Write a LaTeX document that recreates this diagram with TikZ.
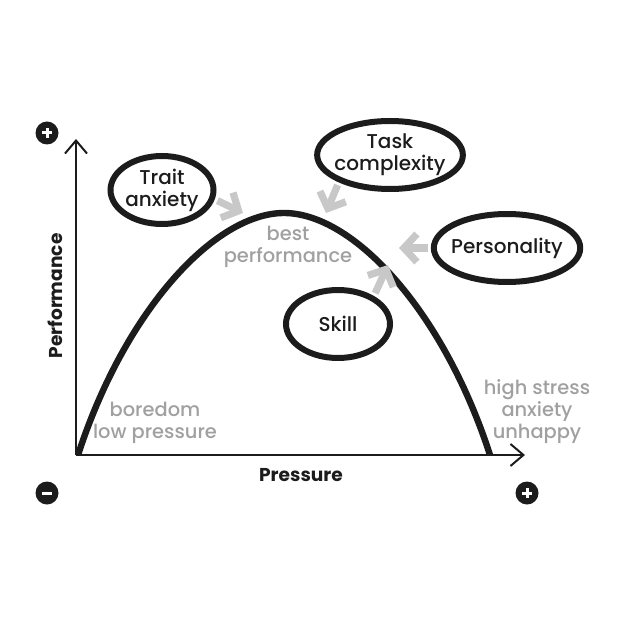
\documentclass[tikz,border=0pt]{standalone}
\usepackage{fontspec}
\setmainfont{Poppins}[UprightFont={Poppins Medium}, BoldFont={Poppins Bold}]
\usepackage{xcolor}
\usetikzlibrary{shapes, arrows.meta, positioning, calc}
\definecolor{inkblack}{RGB}{28, 28, 28}
\definecolor{labelgray}{RGB}{160, 160, 160}
\definecolor{arrowgray}{RGB}{200, 200, 200}

\begin{document}
\begin{tikzpicture}[
					x=0.5pt, y=-0.5pt,
					factor/.style={ellipse, draw=inkblack, line width=3pt, inner sep=-2pt, minimum height=34pt, align=center, text=inkblack, font=\fontsize{10}{11}\selectfont},
					note/.style={text=labelgray, align=center, font=\fontsize{9.7}{11}\selectfont},
					axislabel/.style={text=inkblack, font=\fontsize{9.3}{11}\selectfont\bfseries},
					axis/.style={-{Straight Barb[length=6.5pt, width=11pt]}, inkblack, line width=1pt},
					influence/.style={-{Straight Barb[length=6.5pt, width=14pt]}, arrowgray, line width=3.6pt, shorten <=1.5pt},
					sign/.style={circle, fill=inkblack, minimum size=11.5pt, inner sep=0pt},
					plussign/.style={sign, path picture={
						\draw[white, line width=1.5pt] ([xshift=-2.3pt]path picture bounding box.center) -- ([xshift=2.3pt]path picture bounding box.center);
						\draw[white, line width=1.5pt] ([yshift=-2.3pt]path picture bounding box.center) -- ([yshift=2.3pt]path picture bounding box.center);}},
					minussign/.style={sign, path picture={
						\draw[white, line width=1.5pt] ([xshift=-2.3pt]path picture bounding box.center) -- ([xshift=2.3pt]path picture bounding box.center);}}
				]
				\useasboundingbox (0,0) rectangle (624,624);

				% 1. Axes
				\coordinate (origin) at (76,455);
				\coordinate (ytip) at (76,139);
				\coordinate (xtip) at (525,455);
				\draw[axis] (origin) -- (ytip);
				\draw[axis] (origin) -- (xtip);
				\node[axislabel] (xlabel) at (301,475) {Pressure};
				\node[axislabel, rotate=90] (ylabel) at (55,296) {Performance};
				\node[plussign] (yplus) at (47,133) {};
				\node[minussign] (xminus) at (47,493) {};
				\node[plussign] (xplus) at (527,493) {};

				% 2. Performance curve
				\coordinate (low) at (78,455);
				\coordinate (peak) at (284,213);
				\coordinate (high) at (490,455);
				\draw[inkblack, line width=3.2pt] (low) .. controls (125,310) and (215,213) .. (peak) .. controls (353,213) and (443,310) .. (high);

				% 3. Zone labels
				\node[note] (best) at (288,247) {best\\performance};
				\node[note] (boredom) at (155,423) {boredom\\low pressure};
				\node[note] (stress) at (537,412) {high stress\\anxiety\\unhappy};

				% 4. Factors
				\node[factor, minimum width=51.5pt] (trait) at (162,190) {Trait\\anxiety};
				\node[factor, minimum width=69.5pt] (task) at (390,155) {Task\\complexity};
				\node[factor, minimum width=70pt] (personality) at (507,248) {Personality};
				\node[factor, minimum width=52pt] (skill) at (338,324) {Skill};

				% Arrows
				\coordinate (trait-tip) at (243,213);
				\coordinate (task-tip) at (326,213);
				\coordinate (personality-tip) at (399,248);
				\coordinate (skill-tip) at (388,265);
				\draw[influence] (trait.-10) -- (trait-tip);
				\draw[influence] (task.-152) -- (task-tip);
				\draw[influence] (personality.west) -- (personality-tip);
				\draw[influence] (skill.38) -- (skill-tip);

			\end{tikzpicture}
\end{document}
